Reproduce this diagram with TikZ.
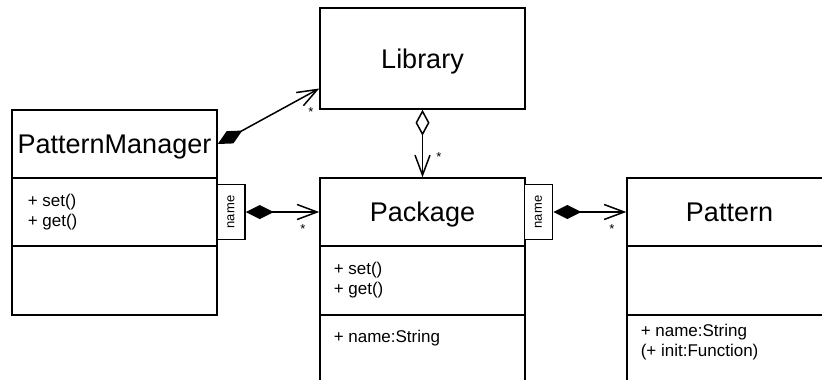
\documentclass[tikz,border=0pt]{standalone}
\usepackage{fontspec}
\setmainfont{Liberation Sans}
\usepackage{tikz}
\usetikzlibrary{arrows.meta}

\begin{document}
\begin{tikzpicture} %Diagrama de clases
  [
    x=1pt, y=-1pt, line width=1.5pt,
    % Definimos los estilos de cajas y flechas para no repetir código
    clase/.style={draw, minimum width=205pt, minimum height=68pt, inner sep=0pt, text depth=0pt, font=\fontsize{27}{27}\selectfont},
    compart/.style={draw, minimum width=205pt, minimum height=69pt, inner sep=0pt},
    miembros/.style={anchor=west, align=left, inner sep=0pt, font=\fontsize{17}{20}\selectfont},
    clave/.style={draw, fill=white, minimum width=28pt, minimum height=55pt, inner sep=0pt, font=\fontsize{13}{13}\selectfont},
    mult/.style={inner sep=0pt, font=\fontsize{13}{13}\selectfont},
    comp/.style={{Diamond[length=28pt, width=14pt]}-{Straight Barb[length=20pt, width=15pt]}},
    agreg/.style={{Diamond[open, length=26pt, width=14pt]}-{Straight Barb[length=20pt, width=15pt]}}
  ]
  \useasboundingbox (0,0) rectangle (822,380);
  \clip (0,0) rectangle (822,380);

  \node[clase, minimum height=101pt] (lib) at (422.5,58.5) {Library};

  \node[clase] (mgr) at (114.5,144) {PatternManager};
  \node[compart, minimum height=68pt] (mgrops) at (114.5,212) {};
  \node[compart] (mgrattr) at (114.5,280.5) {};

  \node[clase] (pkg) at (422.5,212) {Package};
  \node[compart] (pkgops) at (422.5,280.5) {};
  \node[compart, minimum height=90pt] (pkgattr) at (422.5,360) {};

  \node[clase] (pat) at (729.5,212) {Pattern};
  \node[compart] (patops) at (729.5,280.5) {};
  \node[compart, minimum height=90pt] (patattr) at (729.5,360) {};

  \node[miembros] (mgrm) at (27,212) {+ set()\\+ get()};
  \node[miembros] (pkgm) at (333,280) {+ set()\\+ get()};
  \node[miembros] (pkga) at (333,338) {+ name:String};
  \node[miembros] (pata) at (640,342) {+ name:String\\(+ init:Function)};

  \node[clave] (mgrkey) at (231,212) {\rotatebox{90}{name}};
  \node[clave] (pkgkey) at (538.5,212) {\rotatebox{90}{name}};

  \draw[comp] (mgr.east) -- ([yshift=-30pt]lib.west);
  \draw[agreg] (lib.south) -- (pkg.north);
  \draw[comp] (mgrkey.east) -- (pkg.west);
  \draw[comp] (pkgkey.east) -- (pat.west);

  \node[mult] (m1) at (311,112) {*};
  \node[mult] (m2) at (439,157) {*};
  \node[mult] (m3) at (303,229) {*};
  \node[mult] (m4) at (612,229) {*};

\end{tikzpicture}
\end{document}
